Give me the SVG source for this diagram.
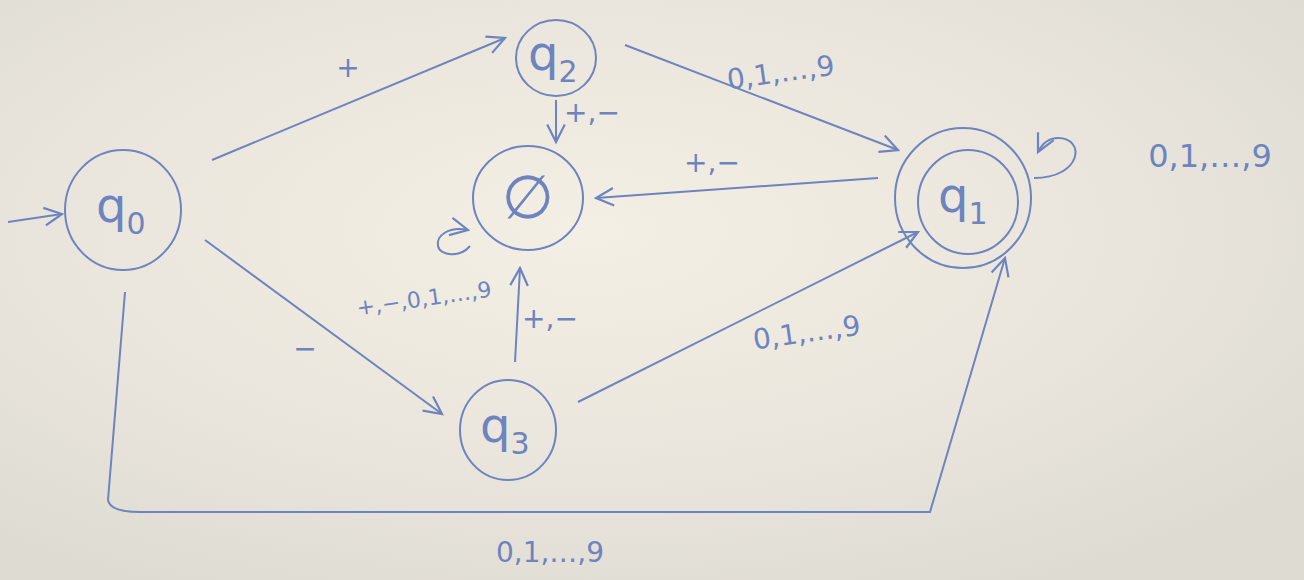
<svg xmlns="http://www.w3.org/2000/svg" width="1304" height="580" viewBox="0 0 1304 580">
<defs>
<radialGradient id="bg" cx="0.45" cy="0.4" r="0.7">
<stop offset="0" stop-color="#f3efe4"/>
<stop offset="0.6" stop-color="#e9e5dc"/>
<stop offset="1" stop-color="#dedbd3"/>
</radialGradient>
<marker id="ah" viewBox="0 0 20 20" refX="18" refY="10" markerWidth="22" markerHeight="22" markerUnits="userSpaceOnUse" orient="auto">
<path d="M2,2 L18,10 L2,18" fill="none" stroke="#6e84bf" stroke-width="2"/>
</marker>
<style>
.n{fill:none;stroke:#6e84bf;stroke-width:2}
.e{fill:none;stroke:#6e84bf;stroke-width:2;marker-end:url(#ah)}
.l{fill:none;stroke:#6e84bf;stroke-width:2}
.t{font-family:"DejaVu Sans",sans-serif;fill:#6e84bf}
.s{font-size:48px}
.sub{font-size:30px}
.lab{font-size:28px}
</style>
</defs>
<rect width="1304" height="580" fill="url(#bg)"/>
<g id="connectors">
<path id="start" class="e" d="M8,222 L62,214"/>
<path id="q0-q2" class="e" d="M212,160 L505,38"/>
<path id="q0-q3" class="e" d="M205,240 L442,414"/>
<path id="q0-q1" class="e" d="M125,292 L108,500 Q110,512 140,512 L930,512 L1005,258"/>
<path id="q2-q1" class="e" d="M625,45 L898,150"/>
<path id="q2-empty" class="e" d="M556,100 L556,142"/>
<path id="q1-empty" class="e" d="M878,178 L596,198"/>
<path id="q3-empty" class="e" d="M515,362 L520,268"/>
<path id="q3-q1" class="e" d="M578,402 L918,232"/>
<path id="empty-loop" class="e" d="M470,246 C460,258 440,256 438,246 C436,236 448,226 468,230"/>
<path id="q1-loop" class="e" d="M1034,178 C1082,178 1086,138 1058,138 C1048,138 1042,144 1038,152"/>
<text class="t lab" x="348" y="77" text-anchor="middle">+</text>
<text class="t lab" x="305" y="358" text-anchor="middle">−</text>
<text class="t lab" x="550" y="562" text-anchor="middle">0,1,…,9</text>
<text class="t lab" x="782" y="82" text-anchor="middle" transform="rotate(-8 782 82)">0,1,…,9</text>
<text class="t lab" x="592" y="122" text-anchor="middle">+,−</text>
<text class="t lab" x="712" y="172" text-anchor="middle">+,−</text>
<text class="t lab" x="550" y="328" text-anchor="middle">+,−</text>
<text class="t lab" x="808" y="342" text-anchor="middle" transform="rotate(-8 808 342)">0,1,…,9</text>
<text class="t lab" x="425" y="306" text-anchor="middle" transform="rotate(-8 425 306)" style="font-size:22px">+,−,0,1,…,9</text>
<text class="t lab" x="1210" y="167" text-anchor="middle" style="font-size:32px">0,1,…,9</text>
</g>
<g id="q0">
<ellipse class="n" cx="123" cy="210" rx="58" ry="60"/>
<text class="t s" x="96" y="222">q<tspan class="sub" dy="12">0</tspan></text>
</g>
<g id="q2">
<ellipse class="n" cx="556" cy="58" rx="40" ry="38"/>
<text class="t s" x="528" y="70">q<tspan class="sub" dy="12">2</tspan></text>
</g>
<g id="empty">
<ellipse class="n" cx="528" cy="198" rx="55" ry="52"/>
<text class="t" x="528" y="218" text-anchor="middle" style="font-size:60px">∅</text>
</g>
<g id="q1">
<ellipse class="n" cx="963" cy="198" rx="68" ry="70"/>
<ellipse class="n" cx="968" cy="202" rx="50" ry="52"/>
<text class="t s" x="938" y="212">q<tspan class="sub" dy="12">1</tspan></text>
</g>
<g id="q3">
<ellipse class="n" cx="508" cy="430" rx="48" ry="50"/>
<text class="t s" x="480" y="442">q<tspan class="sub" dy="12">3</tspan></text>
</g>
</svg>
